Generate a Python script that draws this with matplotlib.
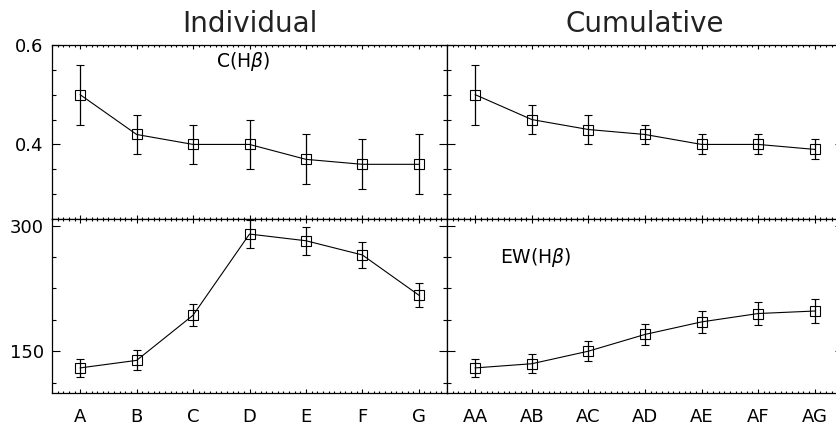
import matplotlib
matplotlib.use("Agg")
import matplotlib.pyplot as plt
from matplotlib.ticker import MultipleLocator, FixedLocator

# --- data -------------------------------------------------------------
ind_labels = ["A", "B", "C", "D", "E", "F", "G"]
cum_labels = ["AA", "AB", "AC", "AD", "AE", "AF", "AG"]

ind_chb = [0.50, 0.42, 0.40, 0.40, 0.37, 0.36, 0.36]
ind_chb_err = [0.06, 0.04, 0.04, 0.05, 0.05, 0.05, 0.06]
cum_chb = [0.50, 0.45, 0.43, 0.42, 0.40, 0.40, 0.39]
cum_chb_err = [0.06, 0.03, 0.03, 0.02, 0.02, 0.02, 0.02]

ind_ew = [130, 139, 193, 290, 282, 265, 217]
ind_ew_err = [11, 12, 13.5, 17, 17, 16, 14.5]
cum_ew = [130, 135, 150, 170, 185, 195, 198]
cum_ew_err = [11, 11.5, 12, 12.5, 13.5, 14, 14]

chb_ticks = [0.4, 0.6]
ew_ticks = [150, 300]

# --- figure -----------------------------------------------------------
W, H = 836, 428
fig = plt.figure(figsize=(W / 100, H / 100), dpi=100)
plt.rcParams["font.family"] = ["DejaVu Sans"]

def fx(px):
    return px / W

def fy(px):
    return 1 - px / H

x_left, x_mid, x_right = 52, 447, 843
y_top, y_mid, y_bot = 45, 219, 393

axes = {}
for col, (x0, x1) in enumerate([(x_left, x_mid), (x_mid, x_right)]):
    for row, (ya, yb) in enumerate([(y_top, y_mid), (y_mid, y_bot)]):
        ax = fig.add_axes([fx(x0), fy(yb), fx(x1 - x0), (yb - ya) / H])
        axes[(row, col)] = ax

def style(ax, show_ylabels, show_xlabels, xlabels):
    n = len(xlabels)
    x = list(range(n))
    ax.set_xlim(-0.5, n - 0.5)
    ax.xaxis.set_major_locator(FixedLocator(x))
    ax.xaxis.set_minor_locator(MultipleLocator(0.1))
    if show_xlabels:
        ax.set_xticklabels(xlabels)
    else:
        ax.set_xticklabels([])
    ax.tick_params(axis="x", which="major", direction="in", length=3.0,
                   width=0.8, top=True, bottom=True, labelsize=13, pad=11)
    ax.tick_params(axis="x", which="minor", direction="in", length=1.5,
                   width=0.8, top=True, bottom=True)
    ax.tick_params(axis="y", which="major", direction="in", length=5.8,
                   width=0.8, left=True, right=True, labelsize=13, pad=6,
                   labelleft=show_ylabels)
    ax.tick_params(axis="y", which="minor", direction="in", length=2.9,
                   width=0.8, left=True, right=True)
    for s in ax.spines.values():
        s.set_linewidth(0.9)

def draw(ax, vals, errs):
    x = list(range(len(vals)))
    ax.errorbar(x, vals, yerr=errs, fmt="-", color="black", lw=0.8,
                elinewidth=0.9, capsize=3.2, capthick=0.9,
                marker="s", ms=6.5, mfc="none", mec="black", mew=0.8)

# C(Hbeta) row
for col, (vals, errs, labs) in enumerate([(ind_chb, ind_chb_err, ind_labels),
                                           (cum_chb, cum_chb_err, cum_labels)]):
    ax = axes[(0, col)]
    draw(ax, vals, errs)
    ax.set_ylim(0.25, 0.6)
    ax.yaxis.set_major_locator(FixedLocator(chb_ticks))
    ax.yaxis.set_minor_locator(MultipleLocator(0.05))
    ax.yaxis.set_major_formatter(plt.FuncFormatter(lambda v, p: f"{v:.1f}"))
    style(ax, col == 0, False, labs)

# EW(Hbeta) row
for col, (vals, errs, labs) in enumerate([(ind_ew, ind_ew_err, ind_labels),
                                           (cum_ew, cum_ew_err, cum_labels)]):
    ax = axes[(1, col)]
    draw(ax, vals, errs)
    ax.set_ylim(100, 308)
    ax.yaxis.set_major_locator(FixedLocator(ew_ticks))
    ax.yaxis.set_minor_locator(MultipleLocator(37.5))
    ax.yaxis.set_major_formatter(plt.FuncFormatter(lambda v, p: f"{v:.0f}"))
    style(ax, col == 0, True, labs)

# Column titles
for col, title in enumerate(["Individual", "Cumulative"]):
    axes[(0, col)].text(0.5, 1 + 13 / 174, title,
                        transform=axes[(0, col)].transAxes,
                        ha="center", va="baseline", fontsize=20, color="#222222")

# Panel annotations
axes[(0, 0)].text(0.4835, 0.908, r"C(H$\beta$)", transform=axes[(0, 0)].transAxes,
                  ha="center", va="center", fontsize=13.5)
axes[(1, 1)].text(0.2247, 0.779, r"EW(H$\beta$)", transform=axes[(1, 1)].transAxes,
                  ha="center", va="center", fontsize=13.5)

fig.savefig("out.png", dpi=100)
